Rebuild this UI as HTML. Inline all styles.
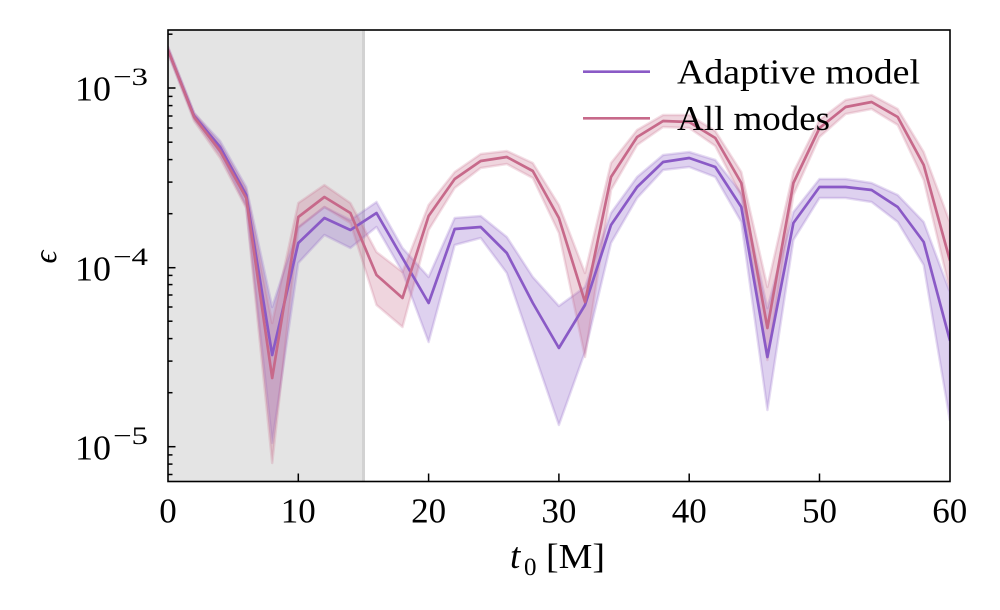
<!DOCTYPE html>
<html>
<head>
<meta charset="utf-8">
<style>
  html, body { margin: 0; padding: 0; background: #ffffff; }
  svg { display: block; }
  text { font-family: "Liberation Serif", "DejaVu Serif", serif; fill: #000; }
</style>
</head>
<body>
<svg width="1000" height="610" viewBox="0 0 1000 610" xmlns="http://www.w3.org/2000/svg">
  <defs>
    <clipPath id="ax">
      <rect x="168" y="30" width="782" height="451.5"/>
    </clipPath>
  </defs>

  <!-- shaded region -->
  <rect x="168" y="30" width="195.5" height="451.5" fill="#e4e4e4"/>
  <line x1="363.5" y1="30" x2="363.5" y2="481.5" stroke="#d2d2d2" stroke-width="3"/>

  <g clip-path="url(#ax)" stroke-linejoin="round" stroke-linecap="round">
    <!-- purple band -->
    <polygon fill="#8a5ac6" fill-opacity="0.28" stroke="#8a5ac6" stroke-opacity="0.22" stroke-width="2.5"
      points="168,47 194.1,113 220.1,141 246.2,187 272.2,307 298.3,227 324.4,207 350.4,220 376.5,202 402.5,248 428.6,277 454.7,218 480.7,216 506.8,237 532.8,277 558.9,306 585,287 611,213 637.1,177 663.1,155 689.2,152 715.3,160 741.3,193 767.4,308 793.4,212 819.5,179 845.6,179 871.6,183 897.7,195 923.7,222 949.8,292 949.8,420 923.7,265 897.7,222 871.6,202 845.6,198 819.5,198 793.4,240 767.4,410 741.3,222 715.3,177 689.2,167 663.1,170 637.1,198 611,243 585,352 558.9,425 532.8,349 506.8,273 480.7,238 454.7,245 428.6,342 402.5,272 376.5,227 350.4,248 324.4,235 298.3,263 272.2,443 246.2,206 220.1,154 194.1,119 168,53"/>
    <!-- red band -->
    <polygon fill="#c7698a" fill-opacity="0.28" stroke="#c7698a" stroke-opacity="0.22" stroke-width="2.5"
      points="168,47 194.1,113 220.1,145 246.2,190 272.2,323 298.3,203 324.4,185 350.4,203 376.5,252 402.5,272 428.6,205 454.7,172 480.7,154 506.8,151 532.8,163 558.9,205 585,273 611,163 637.1,130 663.1,115 689.2,115 715.3,131 741.3,172 767.4,287 793.4,172 819.5,120 845.6,100 871.6,95 897.7,109 923.7,152 949.8,222 949.8,290 923.7,180 897.7,125 871.6,109 845.6,114 819.5,137 793.4,195 767.4,360 741.3,196 715.3,146 689.2,128 663.1,127 637.1,145 611,190 585,357 558.9,233 532.8,178 506.8,164 480.7,168 454.7,188 428.6,230 402.5,327 376.5,305 350.4,223 324.4,207 298.3,228 272.2,463 246.2,208 220.1,158 194.1,121 168,53"/>
    <!-- purple line -->
    <polyline fill="none" stroke="#8a5ac6" stroke-width="2.7"
      points="168,50 194.1,116 220.1,147 246.2,195 272.2,355 298.3,243 324.4,218 350.4,230 376.5,213 402.5,258 428.6,303 454.7,229 480.7,227 506.8,253 532.8,303 558.9,348 585,305 611,225 637.1,187 663.1,162 689.2,158 715.3,167 741.3,207 767.4,357 793.4,223 819.5,187 845.6,187 871.6,190 897.7,207 923.7,242 949.8,340"/>
    <!-- red line -->
    <polyline fill="none" stroke="#c7698a" stroke-width="2.7"
      points="168,50 194.1,117 220.1,151 246.2,198 272.2,378 298.3,217 324.4,197 350.4,213 376.5,275 402.5,298 428.6,216 454.7,179 480.7,161 506.8,157 532.8,171 558.9,218 585,302 611,177 637.1,137 663.1,121 689.2,122 715.3,138 741.3,183 767.4,328 793.4,183 819.5,128 845.6,107 871.6,102 897.7,117 923.7,165 949.8,260"/>
  </g>

  <!-- ticks -->
  <g stroke="#000" stroke-width="1.5">
    <line x1="168" y1="88" x2="175.5" y2="88"/>
    <line x1="168" y1="267.7" x2="175.5" y2="267.7"/>
    <line x1="168" y1="446.7" x2="175.5" y2="446.7"/>
    <line x1="168" y1="34.2" x2="172.5" y2="34.2"/>
    <line x1="168" y1="213.7" x2="172.5" y2="213.7"/>
    <line x1="168" y1="182.1" x2="172.5" y2="182.1"/>
    <line x1="168" y1="159.6" x2="172.5" y2="159.6"/>
    <line x1="168" y1="142.2" x2="172.5" y2="142.2"/>
    <line x1="168" y1="128.0" x2="172.5" y2="128.0"/>
    <line x1="168" y1="116.0" x2="172.5" y2="116.0"/>
    <line x1="168" y1="105.6" x2="172.5" y2="105.6"/>
    <line x1="168" y1="96.4" x2="172.5" y2="96.4"/>
    <line x1="168" y1="392.7" x2="172.5" y2="392.7"/>
    <line x1="168" y1="361.1" x2="172.5" y2="361.1"/>
    <line x1="168" y1="338.6" x2="172.5" y2="338.6"/>
    <line x1="168" y1="321.2" x2="172.5" y2="321.2"/>
    <line x1="168" y1="307.0" x2="172.5" y2="307.0"/>
    <line x1="168" y1="295.0" x2="172.5" y2="295.0"/>
    <line x1="168" y1="284.6" x2="172.5" y2="284.6"/>
    <line x1="168" y1="275.4" x2="172.5" y2="275.4"/>
    <line x1="168" y1="454.9" x2="172.5" y2="454.9"/>
    <line x1="168" y1="464.1" x2="172.5" y2="464.1"/>
    <line x1="168" y1="474.5" x2="172.5" y2="474.5"/>
    <line x1="298.3" y1="481.5" x2="298.3" y2="473.5"/>
    <line x1="428.6" y1="481.5" x2="428.6" y2="473.5"/>
    <line x1="558.9" y1="481.5" x2="558.9" y2="473.5"/>
    <line x1="689.2" y1="481.5" x2="689.2" y2="473.5"/>
    <line x1="819.5" y1="481.5" x2="819.5" y2="473.5"/>
  </g>

  <!-- spines -->
  <rect x="168" y="30" width="782" height="451.5" fill="none" stroke="#000" stroke-width="1.6"/>

  <!-- x tick labels -->
  <g font-size="35" text-anchor="middle">
    <text x="168" y="522.7">0</text>
    <text x="298.3" y="522.7">10</text>
    <text x="428.6" y="522.7">20</text>
    <text x="558.9" y="522.7">30</text>
    <text x="689.2" y="522.7">40</text>
    <text x="819.5" y="522.7">50</text>
    <text x="949.8" y="522.7">60</text>
  </g>

  <!-- y tick labels -->
  <g>
    <text x="75" y="100.7" font-size="35" textLength="36" lengthAdjust="spacingAndGlyphs">10</text>
    <text x="113" y="85" font-size="25" textLength="35" lengthAdjust="spacingAndGlyphs">−3</text>
    <text x="75" y="280.4" font-size="35" textLength="36" lengthAdjust="spacingAndGlyphs">10</text>
    <text x="113" y="265" font-size="25" textLength="35" lengthAdjust="spacingAndGlyphs">−4</text>
    <text x="75" y="459.5" font-size="35" textLength="36" lengthAdjust="spacingAndGlyphs">10</text>
    <text x="113" y="444" font-size="25" textLength="35" lengthAdjust="spacingAndGlyphs">−5</text>
  </g>

  <!-- axis labels -->
  <text x="510" y="568" font-size="37" font-style="italic">t</text>
  <text x="524" y="575" font-size="25">0</text>
  <text x="546" y="568" font-size="35" textLength="59" lengthAdjust="spacingAndGlyphs">[M]</text>

  <text transform="translate(56,257) rotate(-90)" font-size="32" font-style="italic" text-anchor="middle">ϵ</text>

  <!-- legend -->
  <line x1="583" y1="71.7" x2="650" y2="71.7" stroke="#8a5ac6" stroke-width="2.7"/>
  <text x="677" y="83.3" font-size="35" textLength="243" lengthAdjust="spacingAndGlyphs">Adaptive model</text>
  <line x1="583" y1="118.3" x2="650" y2="118.3" stroke="#c7698a" stroke-width="2.7"/>
  <text x="677" y="130" font-size="35" textLength="153" lengthAdjust="spacingAndGlyphs">All modes</text>
</svg>
</body>
</html>
